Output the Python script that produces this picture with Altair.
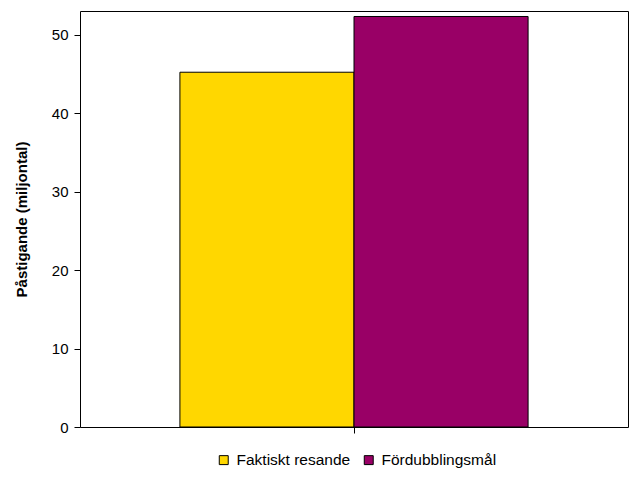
import altair as alt
import pandas as pd

series = ["Faktiskt resande", "Fördubblingsmål"]
values = [45.2, 52.3]
group = ["2010", "2010"]
colors = ["#FFD700", "#990066"]

df = pd.DataFrame({"grupp": group, "serie": series, "varde": values})

chart = alt.Chart(df).mark_bar(stroke="black", strokeWidth=1).encode(
    x=alt.X("grupp:N", title=None,
            scale=alt.Scale(paddingOuter=0.287, paddingInner=0),
            axis=alt.Axis(labels=False, tickSize=6, tickColor="black",
                          domain=False, ticks=True, bandPosition=0.5)),
    xOffset=alt.XOffset("serie:N", sort=series,
                        scale=alt.Scale(paddingInner=0, paddingOuter=0)),
    y=alt.Y("varde:Q", title="Påstigande (miljontal)",
            scale=alt.Scale(domain=[0, 53], nice=False),
            axis=alt.Axis(values=[0, 10, 20, 30, 40, 50], grid=False,
                          tickSize=6, tickColor="black", domain=False,
                          labelPadding=6, titlePadding=22,
                          labelFontSize=15, labelColor="black",
                          titleFontSize=15, titleFontWeight="bold",
                          titleColor="black", labelFont="Liberation Sans",
                          titleFont="Liberation Sans")),
    color=alt.Color("serie:N", sort=series,
                    scale=alt.Scale(domain=series, range=colors),
                    legend=alt.Legend(title=None, orient="none",
                                      direction="horizontal",
                                      legendX=136, legendY=441,
                                      symbolType="square", symbolSize=80,
                                      symbolStrokeColor="black",
                                      symbolStrokeWidth=1,
                                      symbolOpacity=1,
                                      labelFontSize=15.5, labelColor="black",
                                      labelFont="Liberation Sans",
                                      labelOffset=5, columnPadding=10)),
).properties(
    width=548, height=416,
    background="white",
    autosize=alt.AutoSizeParams(type="none"),
    padding={"left": 72, "top": 3, "right": 4, "bottom": 53},
).configure_view(
    stroke="black", strokeWidth=1
)

chart.save("out.html", embed_options={"renderer": "svg", "actions": False})
